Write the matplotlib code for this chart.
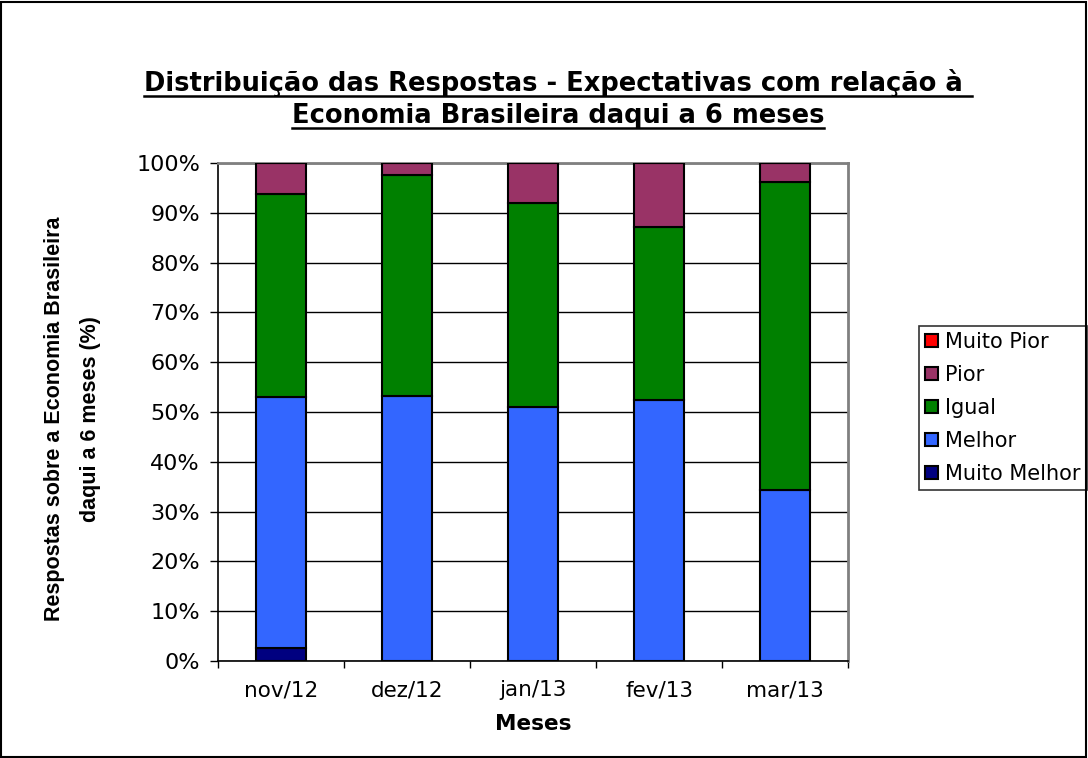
import numpy as np
import matplotlib
matplotlib.use('Agg')
import matplotlib.pyplot as plt
from matplotlib.patches import Rectangle

meses = ['nov/12', 'dez/12', 'jan/13', 'fev/13', 'mar/13']
muito_melhor = [2.6, 0.0, 0.0, 0.0, 0.0]
melhor = [50.4, 53.2, 51.0, 52.4, 34.3]
igual = [40.8, 44.4, 41.0, 34.7, 61.9]
pior = [6.2, 2.4, 8.0, 12.9, 3.8]
muito_pior = [0.0, 0.0, 0.0, 0.0, 0.0]

series = [
    ('Muito Melhor', muito_melhor, '#000080'),
    ('Melhor', melhor, '#3366FF'),
    ('Igual', igual, '#008000'),
    ('Pior', pior, '#993366'),
    ('Muito Pior', muito_pior, '#FF0000'),
]

fig = plt.figure(figsize=(10.88, 7.58), dpi=100)
fig.patches.append(Rectangle((0.001, 0.001), 0.997, 0.997, transform=fig.transFigure,
                             fill=False, edgecolor='black', linewidth=1.5))
ax = fig.add_axes([0.2004, 0.128, 0.579, 0.657])

x = np.arange(len(meses))
bottom = np.zeros(len(meses))
handles = []
for name, vals, col in series:
    vals = np.array(vals)
    b = ax.bar(x, vals, 0.4, bottom=bottom, color=col, edgecolor='black',
               linewidth=1.5, label=name, zorder=3)
    bottom += vals
    handles.append(b)

ax.set_xlim(-0.5, len(meses) - 0.5)
ax.set_ylim(0, 100)
ax.set_yticks(np.arange(0, 101, 10))
ax.set_yticklabels(['%d%%' % v for v in range(0, 101, 10)], fontsize=16)
ax.set_xticks(x)
ax.set_xticklabels(meses, fontsize=15.5)
ax.tick_params(axis='x', length=0, pad=14)
ax.set_xticks(np.arange(-0.5, len(meses), 1), minor=True)
ax.tick_params(axis='x', which='minor', length=5, direction='out', width=1)
ax.tick_params(axis='y', length=6, direction='out', width=1, pad=7)
ax.yaxis.grid(True, color='black', linewidth=1, zorder=0)
ax.set_axisbelow(True)
for s in ['top', 'right']:
    ax.spines[s].set_color('#808080')
    ax.spines[s].set_linewidth(2)
for s in ['left', 'bottom']:
    ax.spines[s].set_linewidth(1.2)

ax.set_xlabel('Meses', fontsize=15.5, fontweight='bold', labelpad=10)
ax.set_ylabel('Respostas sobre a Economia Brasileira\ndaqui a 6 meses (%)',
              fontsize=15.5, fontweight='bold', family='Liberation Sans',
              labelpad=29, linespacing=1.95)
ax.yaxis.set_label_coords(-0.185, 0.486)

leg = ax.legend(handles[::-1], [s[0] for s in series][::-1], loc='upper left',
                bbox_to_anchor=(0.8445, 0.570), bbox_transform=fig.transFigure,
                fontsize=15, frameon=True, fancybox=False, edgecolor='black',
                handlelength=0.6, handleheight=0.6, handletextpad=0.35,
                labelspacing=0.62, borderpad=0.3, borderaxespad=0)
leg.get_frame().set_linewidth(1.2)

t1 = fig.text(0.513, 0.880, 'Distribuição das Respostas - Expectativas com relação à ',
              ha='center', va='baseline', fontsize=18.5, fontweight='bold')
t2 = fig.text(0.513, 0.838, 'Economia Brasileira daqui a 6 meses',
              ha='center', va='baseline', fontsize=18.5, fontweight='bold')
fig.canvas.draw()
r = fig.canvas.get_renderer()
inv = fig.transFigure.inverted()
for t in (t1, t2):
    bb = t.get_window_extent(r)
    (x0, _), (x1, _) = inv.transform([(bb.x0, 0), (bb.x1, 0)])
    y = t.get_position()[1] - 0.007
    fig.add_artist(plt.Line2D([x0, x1], [y, y], transform=fig.transFigure,
                              color='black', linewidth=1.8))

fig.savefig('out.png', dpi=100)
